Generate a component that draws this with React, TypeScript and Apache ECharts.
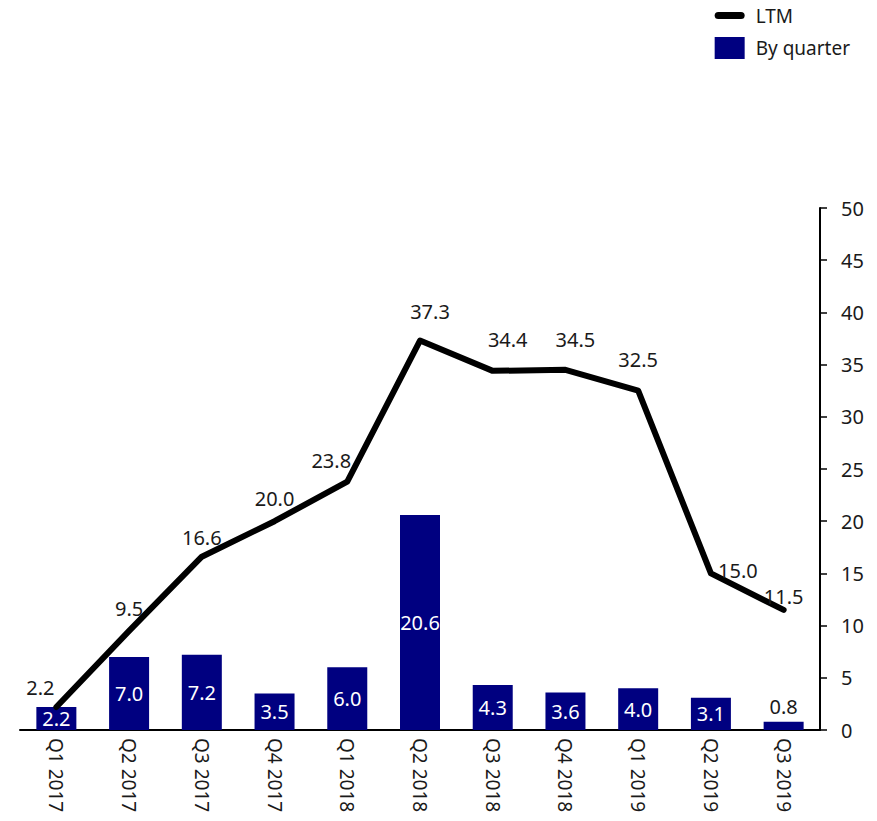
import React, { useEffect, useRef } from "react";
import * as echarts from "echarts";

const categories = ["Q1 2017", "Q2 2017", "Q3 2017", "Q4 2017", "Q1 2018", "Q2 2018", "Q3 2018", "Q4 2018", "Q1 2019", "Q2 2019", "Q3 2019"];
const byQuarter = [2.2, 7.0, 7.2, 3.5, 6.0, 20.6, 4.3, 3.6, 4.0, 3.1, 0.8];
const ltm = [2.2, 9.5, 16.6, 20.0, 23.8, 37.3, 34.4, 34.5, 32.5, 15.0, 11.5];

// label placement tweaks (styling only)
const ltmLabelOffsets = [[-16, -4], [0, -7], [0, -4], [0, -7], [-16, -6], [10, -14], [15, -16], [10, -15], [0, -16], [27, 13], [0, 2]];

const FONT = "'Noto Sans', sans-serif";
const TXT = "#1a1a1a";

export default function App() {
  const ref = useRef<HTMLDivElement>(null);
  useEffect(() => {
    if (!ref.current) return;
    const chart = echarts.init(ref.current, undefined, { renderer: "svg" });
    chart.setOption({
      animation: false,
      textStyle: { fontFamily: FONT },
      legend: {
        orient: "vertical",
        right: 22,
        top: 1,
        itemWidth: 30,
        itemHeight: 22,
        itemGap: 12,
        textStyle: { fontSize: 19, color: TXT, fontFamily: FONT, padding: [0, 0, 0, 6] },
        data: [
          {
            name: "LTM",
            icon: "path://M3,0 L22,0 A3,3 0 0 1 22,6 L3,6 A3,3 0 0 1 3,0 Z",
            itemStyle: { color: "#000" },
          },
          { name: "By quarter", icon: "rect", itemStyle: { color: "#000080" } },
        ],
      },
      grid: { left: 20, right: 57, top: 208, bottom: 91, containLabel: false },
      xAxis: {
        type: "category",
        data: categories,
        axisLine: { lineStyle: { color: "#000", width: 2 } },
        axisTick: { show: false },
        axisLabel: { rotate: -90, fontSize: 19, color: TXT, margin: 8, fontFamily: FONT },
      },
      yAxis: {
        type: "value",
        position: "right",
        min: 0,
        max: 50,
        interval: 5,
        splitLine: { show: false },
        axisLine: { show: true, lineStyle: { color: "#000", width: 2 } },
        axisTick: { show: true, length: 7, lineStyle: { color: "#000", width: 1.5 } },
        axisLabel: { fontSize: 20, color: TXT, margin: 21, fontFamily: FONT },
      },
      series: [
        {
          name: "By quarter",
          type: "bar",
          data: byQuarter.map((v, i) =>
            i === byQuarter.length - 1
              ? { value: v, label: { position: "top", color: TXT } }
              : v
          ),
          barWidth: "55%",
          itemStyle: { color: "#000080" },
          label: {
            show: true,
            position: "inside",
            color: "#fff",
            fontSize: 20,
            fontFamily: FONT,
            formatter: (p: any) => Number(p.value).toFixed(1),
          },
          z: 1,
        },
        {
          name: "LTM",
          type: "line",
          data: ltm.map((v, i) => ({ value: v, label: { offset: ltmLabelOffsets[i] } })),
          symbol: "circle",
          symbolSize: 1,
          showSymbol: true,
          lineStyle: { color: "#000", width: 6, cap: "round", join: "round" },
          itemStyle: { color: "#000" },
          label: {
            show: true,
            position: "top",
            color: TXT,
            fontSize: 20,
            fontFamily: FONT,
            formatter: (p: any) => Number(p.value).toFixed(1),
          },
          z: 3,
        },
      ],
    });
    return () => chart.dispose();
  }, []);
  return <div ref={ref} style={{ width: 877, height: 821, margin: -8 }} />;
}
